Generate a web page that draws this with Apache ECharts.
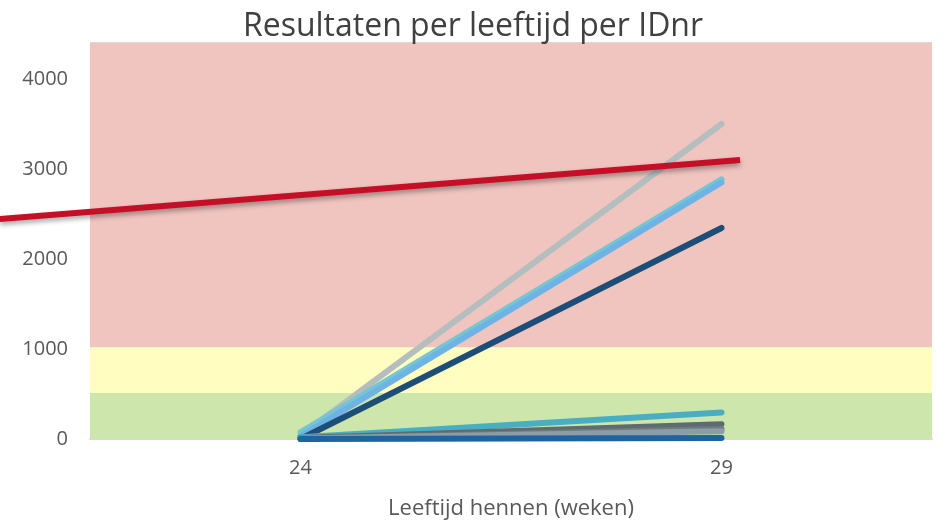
<!DOCTYPE html>
<html>
<head>
<meta charset="utf-8">
<script src="https://cdn.jsdelivr.net/npm/echarts@6/dist/echarts.min.js"></script>
<style>
  html, body { margin: 0; padding: 0; background: #fff; }
  #chart { width: 946px; height: 520px; }
</style>
</head>
<body>
<div id="chart"></div>
<script>
// leeftijd (weken)
var weeks = ["24", "29"];

// resultaten per IDnr, waarde bij 24 en 29 weken
var idLightGray = [40, 3500];
var idCyan = [75, 2885];
var idLightBlue = [30, 2850];
var idNavy = [0, 2345];
var idTeal = [20, 295];
var idDarkGray = [10, 165];
var idSlate = [5, 110];
var idGray = [5, 85];
var idBlue = [0, 10];

// rode grenslijn (week, waarde)
var redLine = [[20.43, 2445], [29.22, 3100]];

// achtergrondzones
var zoneGreen = [0, 510];
var zoneYellow = [510, 1020];
var zoneRed = [1020, 4400];

var chart = echarts.init(document.getElementById("chart"));

function idSeries(name, data, color) {
    return {
        name: name,
        type: "line",
        data: data,
        symbol: "none",
        lineStyle: { width: 6, color: color, cap: "round" },
        z: 3
    };
}

var option = {
    title: {
        text: "Resultaten per leeftijd per IDnr",
        left: "center",
        top: 6,
        textStyle: { fontFamily: "Open Sans", fontWeight: "normal", fontSize: 32, color: "#404040" }
    },
    grid: [
        { left: 90, right: 14, top: 43, bottom: 81, outerBoundsMode: "none" },
        // tweede raster voor de grenslijn, loopt door tot de linkerrand
        { left: 0, right: 14, top: 43, bottom: 81, outerBoundsMode: "none" }
    ],
    xAxis: [{
        type: "category",
        data: weeks,
        boundaryGap: true,
        name: "Leeftijd hennen (weken)",
        nameLocation: "middle",
        nameGap: 59,
        nameTextStyle: { fontFamily: "Open Sans", fontSize: 22, color: "#595959" },
        axisLine: { lineStyle: { color: "#D9D9D9", width: 2 } },
        axisTick: { show: false },
        axisLabel: { fontFamily: "Open Sans", fontSize: 20, color: "#595959", margin: 19 }
    }, {
        type: "value",
        gridIndex: 1,
        min: 20.431,
        max: 31.5,
        show: false
    }],
    yAxis: [{
        type: "value",
        min: 0,
        max: 4400,
        interval: 1000,
        axisLine: { show: false },
        axisTick: { show: false },
        axisLabel: {
            fontFamily: "Open Sans", fontSize: 20, color: "#595959", margin: 22,
            formatter: function (v) { return v % 1000 === 0 ? v : ""; }
        },
        splitLine: { lineStyle: { color: "#D9D9D9", width: 2 } }
    }, {
        type: "value",
        gridIndex: 1,
        min: 0,
        max: 4400,
        show: false
    }],
    series: [
        {
            type: "line",
            data: [],
            silent: true,
            markArea: {
                silent: true,
                data: [
                    [{ yAxis: zoneGreen[0], itemStyle: { color: "#CDE6AC" } }, { yAxis: zoneGreen[1] }],
                    [{ yAxis: zoneYellow[0], itemStyle: { color: "#FFFDC0" } }, { yAxis: zoneYellow[1] }],
                    [{ yAxis: zoneRed[0], itemStyle: { color: "#F0C4BF" } }, { yAxis: zoneRed[1] }]
                ]
            },
            z: 1
        },
        idSeries("IDnr 1", idLightGray, "#B4BEBF"),
        idSeries("IDnr 2", idCyan, "#74C6D3"),
        idSeries("IDnr 3", idLightBlue, "#6FB3E6"),
        idSeries("IDnr 4", idNavy, "#1C4E78"),
        idSeries("IDnr 5", idTeal, "#4AAEC2"),
        idSeries("IDnr 6", idDarkGray, "#5E6B70"),
        idSeries("IDnr 7", idSlate, "#6E7C82"),
        idSeries("IDnr 8", idGray, "#8C9DA6"),
        idSeries("IDnr 9", idBlue, "#1F64A0"),
        {
            name: "Grens",
            type: "line",
            xAxisIndex: 1,
            yAxisIndex: 1,
            data: redLine,
            symbol: "none",
            clip: false,
            lineStyle: {
                width: 6, color: "#C40F27",
                shadowColor: "rgba(0,0,0,0.35)", shadowBlur: 5, shadowOffsetY: 3
            },
            z: 4
        }
    ]
};

chart.setOption(option);
</script>
</body>
</html>
